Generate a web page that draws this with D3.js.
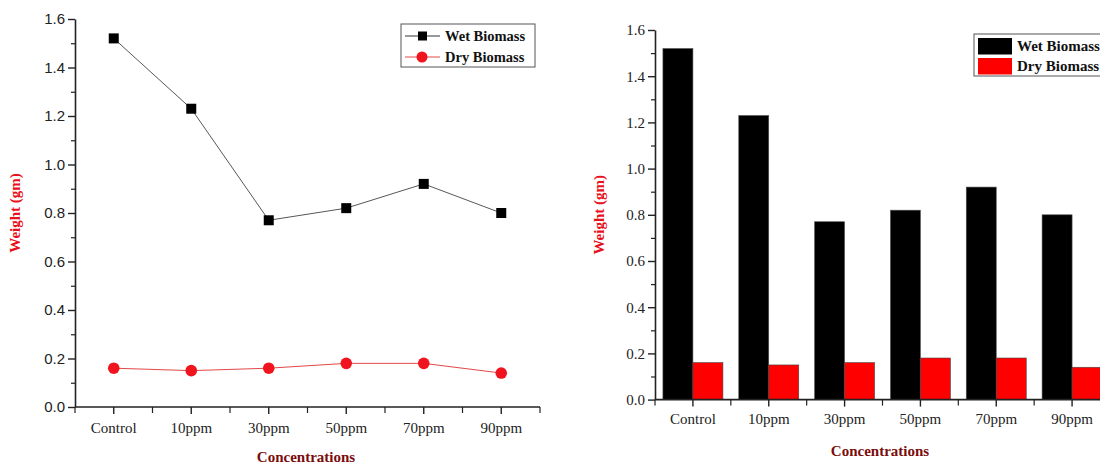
<!DOCTYPE html>
<html>
<head>
<meta charset="utf-8">
<script src="https://cdn.jsdelivr.net/npm/d3@7"></script>
<style>
  body { margin: 0; background: #fff; }
  svg { display: block; }
</style>
</head>
<body>
<div id="chart"></div>
<script>
// Data
var categories = ["Control", "10ppm", "30ppm", "50ppm", "70ppm", "90ppm"];
var wetBiomass = [1.52, 1.23, 0.77, 0.82, 0.92, 0.80];
var dryBiomass = [0.16, 0.15, 0.16, 0.18, 0.18, 0.14];
var yTicks = [0, 0.2, 0.4, 0.6, 0.8, 1.0, 1.2, 1.4, 1.6];
var yMinor = [0.1, 0.3, 0.5, 0.7, 0.9, 1.1, 1.3, 1.5];
var seriesNames = ["Wet Biomass", "Dry Biomass"];

var width = 1100, height = 466;
var serif = "'Liberation Serif', 'Times New Roman', serif";
var sans = "'Liberation Sans', Arial, sans-serif";
var axisColor = "#222";

var svg = d3.select("#chart").append("svg")
    .attr("width", width)
    .attr("height", height);

// draws axes for one panel, returns nothing
function drawAxes(g, x, y, yFont, xLabelY, titleX, titleY, yTitleX) {
    var r = x.range();
    var y0 = y(0);

    // y axis
    var yAxis = d3.axisLeft(y).tickValues(yTicks).tickSize(7).tickSizeOuter(0)
        .tickFormat(d3.format(".1f"));
    var ya = g.append("g").attr("transform", "translate(" + r[0] + ",0)").call(yAxis);
    ya.select(".domain").attr("stroke", axisColor).attr("stroke-width", 1.6);
    ya.selectAll(".tick line").attr("stroke", axisColor).attr("stroke-width", 1.4);
    ya.selectAll(".tick text").attr("font-family", yFont).attr("font-size", 15)
        .attr("fill", "#222").attr("x", -10);
    var ym = d3.axisLeft(y).tickValues(yMinor).tickSize(4).tickSizeOuter(0).tickFormat("");
    var ymg = g.append("g").attr("transform", "translate(" + r[0] + ",0)").call(ym);
    ymg.select(".domain").remove();
    ymg.selectAll(".tick line").attr("stroke", axisColor).attr("stroke-width", 1.2);

    // x axis
    var xg = g.append("g").attr("transform", "translate(0," + y0 + ")");
    xg.append("line").attr("x1", r[0]).attr("x2", r[1]).attr("y1", 0).attr("y2", 0)
        .attr("stroke", axisColor).attr("stroke-width", 1.6);
    var bounds = d3.range(categories.length + 1).map(function(i){ return r[0] + i * x.step(); });
    xg.selectAll("line.bnd").data(bounds).enter().append("line").attr("class", "bnd")
        .attr("x1", function(d){ return d; }).attr("x2", function(d){ return d; })
        .attr("y1", 0).attr("y2", 6).attr("stroke", axisColor).attr("stroke-width", 1.2);
    xg.selectAll("line.ctr").data(categories).enter().append("line").attr("class", "ctr")
        .attr("x1", function(d){ return x(d) + x.bandwidth() / 2; })
        .attr("x2", function(d){ return x(d) + x.bandwidth() / 2; })
        .attr("y1", 0).attr("y2", 7).attr("stroke", axisColor).attr("stroke-width", 1.4);
    xg.selectAll("text").data(categories).enter().append("text")
        .attr("x", function(d){ return x(d) + x.bandwidth() / 2; })
        .attr("y", xLabelY)
        .attr("text-anchor", "middle")
        .attr("font-family", serif).attr("font-size", 15).attr("fill", "#222")
        .text(function(d){ return d; });

    // titles
    g.append("text").attr("x", titleX).attr("y", titleY)
        .attr("text-anchor", "middle").attr("font-family", serif)
        .attr("font-weight", "bold").attr("font-size", 15).attr("fill", "#7a0c0c")
        .text("Concentrations");
    g.append("text")
        .attr("transform", "translate(" + yTitleX + "," + ((y(1.6) + y0) / 2) + ")rotate(-90)")
        .attr("text-anchor", "middle").attr("font-family", serif)
        .attr("font-weight", "bold").attr("font-size", 15).attr("fill", "#e8101a")
        .text("Weight (gm)");
}

// ---------- Left panel: line chart ----------
var left = svg.append("g");
var xL = d3.scaleBand().domain(categories).range([75, 540]).padding(0);
var yL = d3.scaleLinear().domain([0, 1.6]).range([407, 19]);
drawAxes(left, xL, yL, sans, 26, 306, 462, 20);

function cx(d, i) { return xL(categories[i]) + xL.bandwidth() / 2; }

var lineGen = d3.line()
    .x(function(d, i){ return cx(d, i); })
    .y(function(d){ return yL(d); });

left.append("path").datum(wetBiomass).attr("d", lineGen)
    .attr("fill", "none").attr("stroke", "#444").attr("stroke-width", 0.9);
left.append("path").datum(dryBiomass).attr("d", lineGen)
    .attr("fill", "none").attr("stroke", "#e24848").attr("stroke-width", 1);

var sq = 10;
left.selectAll("rect.wet").data(wetBiomass).enter().append("rect").attr("class", "wet")
    .attr("x", function(d, i){ return cx(d, i) - sq / 2; })
    .attr("y", function(d){ return yL(d) - sq / 2; })
    .attr("width", sq).attr("height", sq).attr("fill", "#000");
left.selectAll("circle.dry").data(dryBiomass).enter().append("circle").attr("class", "dry")
    .attr("cx", function(d, i){ return cx(d, i); })
    .attr("cy", function(d){ return yL(d); })
    .attr("r", 5.8).attr("fill", "#f0141e");

// left legend
var legL = left.append("g").attr("transform", "translate(401,24)");
legL.append("rect").attr("width", 134).attr("height", 43)
    .attr("fill", "#fff").attr("stroke", "#555").attr("stroke-width", 1);
seriesNames.forEach(function(name, i){
    var ly = 12 + i * 21;
    var col = i === 0 ? "#333" : "#e24848";
    legL.append("line").attr("x1", 4).attr("x2", 39).attr("y1", ly).attr("y2", ly)
        .attr("stroke", col).attr("stroke-width", 1);
    if (i === 0) {
        legL.append("rect").attr("x", 17).attr("y", ly - 4.5).attr("width", 9).attr("height", 9).attr("fill", "#000");
    } else {
        legL.append("circle").attr("cx", 21).attr("cy", ly).attr("r", 5.5).attr("fill", "#f0141e");
    }
    legL.append("text").attr("x", 44).attr("y", ly + 5)
        .attr("font-family", serif).attr("font-weight", "bold").attr("font-size", 14.5)
        .attr("fill", "#111").text(name);
});

// ---------- Right panel: grouped bars ----------
var right = svg.append("g");
var xR = d3.scaleBand().domain(categories).range([655, 1110]).padding(0);
var yR = d3.scaleLinear().domain([0, 1.6]).range([399.6, 30]);
var barW = 30;

right.selectAll("rect.wet").data(wetBiomass).enter().append("rect").attr("class", "wet")
    .attr("x", function(d, i){ return xR(categories[i]) + xR.bandwidth() / 2 - barW; })
    .attr("y", function(d){ return yR(d); })
    .attr("width", barW).attr("height", function(d){ return yR(0) - yR(d); })
    .attr("fill", "#000").attr("stroke", "#555").attr("stroke-width", 0.6);
right.selectAll("rect.dry").data(dryBiomass).enter().append("rect").attr("class", "dry")
    .attr("x", function(d, i){ return xR(categories[i]) + xR.bandwidth() / 2; })
    .attr("y", function(d){ return yR(d); })
    .attr("width", barW).attr("height", function(d){ return yR(0) - yR(d); })
    .attr("fill", "#ff0000").attr("stroke", "#444").attr("stroke-width", 0.6);

drawAxes(right, xR, yR, serif, 24, 880, 456, 604);

// right legend (clipped by the page edge)
var legR = right.append("g").attr("transform", "translate(974,34)");
legR.append("rect").attr("width", 140).attr("height", 42)
    .attr("fill", "#fff").attr("stroke", "#555").attr("stroke-width", 1);
seriesNames.forEach(function(name, i){
    var ly = 4 + i * 20;
    legR.append("rect").attr("x", 4).attr("y", ly).attr("width", 34).attr("height", 16.5)
        .attr("fill", i === 0 ? "#000" : "#ff0000");
    legR.append("text").attr("x", 43).attr("y", ly + 13)
        .attr("font-family", serif).attr("font-weight", "bold").attr("font-size", 15)
        .attr("fill", "#111").text(name);
});
</script>
</body>
</html>
